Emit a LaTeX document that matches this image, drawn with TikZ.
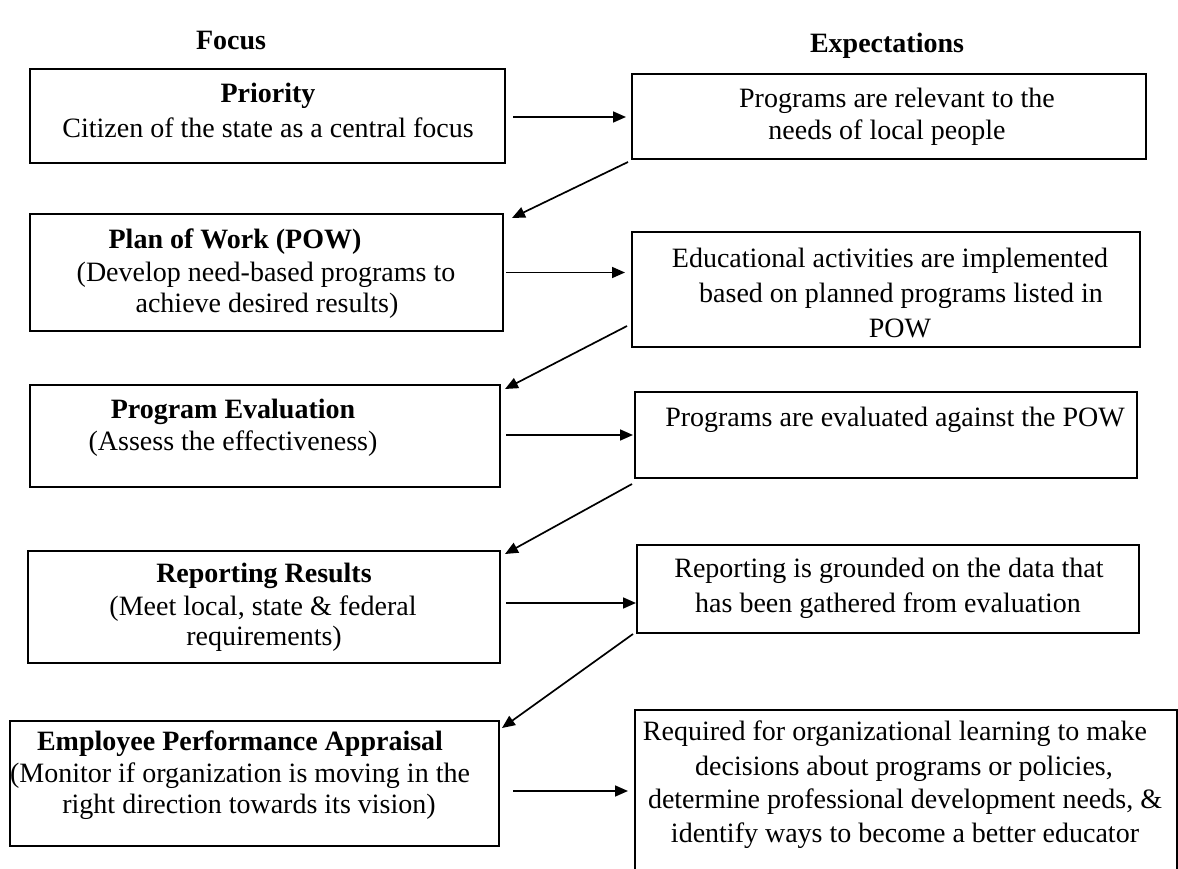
\documentclass[tikz,border=0pt]{standalone}
\usepackage{fontspec}
\setmainfont{Liberation Serif}
\usetikzlibrary{arrows.meta,calc}
\tikzset{
  box/.style={draw, line width=2.3pt, inner sep=0pt, outer sep=0pt},
  txt/.style={anchor=base, inner sep=0pt, outer sep=0pt, font=\fontsize{28}{33}\selectfont},
  hd/.style={anchor=base, inner sep=0pt, outer sep=0pt, font=\fontsize{28}{33}\selectfont\bfseries},
  arr/.style={line width=1.7pt, -{Triangle[length=13pt,width=11pt]}},
}
\begin{document}
\begin{tikzpicture}[x=1pt,y=-1pt]
\useasboundingbox (0,0) rectangle (1178,869);
\clip (0,0) rectangle (1178,869);
\fill[white] (0,0) rectangle (1178,869);

% headings
\node[hd] (hfocus) at (231,50) {Focus};
\node[hd] (hexp) at (887,53) {Expectations};

% left boxes
\node[box, minimum width=475pt, minimum height=94pt] (l1) at (267.5,116) {};
\node[box, minimum width=473pt, minimum height=117pt] (l2) at (266.5,272.5) {};
\node[box, minimum width=470pt, minimum height=102pt] (l3) at (265,436) {};
\node[box, minimum width=472pt, minimum height=112pt] (l4) at (264,607) {};
\node[box, minimum width=489pt, minimum height=125pt] (l5) at (254.5,783.5) {};

% right boxes
\node[box, minimum width=514pt, minimum height=85pt] (r1) at (889,116.5) {};
\node[box, minimum width=508pt, minimum height=115pt] (r2) at (886,289.5) {};
\node[box, minimum width=502pt, minimum height=86pt] (r3) at (886,435) {};
\node[box, minimum width=502pt, minimum height=88pt] (r4) at (888,589) {};
\node[box, minimum width=542pt, minimum height=180pt] (r5) at (906,800) {};

% left texts
\node[hd] (l1a) at (268,103) {Priority};
\node[txt] (l1b) at (268,138) {Citizen of the state as a central focus};
\node[hd] (l2a) at (235,248) {Plan of Work (POW)};
\node[txt] (l2b) at (266,281) {(Develop need-based programs to};
\node[txt] (l2c) at (267,312) {achieve desired results)};
\node[hd] (l3a) at (233,418) {Program Evaluation};
\node[txt] (l3b) at (233,450) {(Assess the effectiveness)};
\node[hd] (l4a) at (264,582) {Reporting Results};
\node[txt] (l4b) at (263,615) {(Meet local, state \& federal};
\node[txt] (l4c) at (264,645) {requirements)};
\node[hd] (l5a) at (240,750) {Employee Performance Appraisal};
\node[txt] (l5b) at (240,782) {(Monitor if organization is moving in the};
\node[txt] (l5c) at (249,813) {right direction towards its vision)};

% right texts
\node[txt] (r1a) at (897,108) {Programs are relevant to the};
\node[txt] (r1b) at (887,140) {needs of local people};
\node[txt] (r2a) at (890,267) {Educational activities are implemented};
\node[txt] (r2b) at (901,302) {based on planned programs listed in};
\node[txt] (r2c) at (900,337) {POW};
\node[txt] (r3a) at (895,426) {Programs are evaluated against the POW};
\node[txt] (r4a) at (889,577) {Reporting is grounded on the data that};
\node[txt] (r4b) at (888,612) {has been gathered from evaluation};
\node[txt] (r5a) at (895,740) {Required for organizational learning to make};
\node[txt] (r5b) at (904,775) {decisions about programs or policies,};
\node[txt] (r5c) at (905,808) {determine professional development needs, \&};
\node[txt] (r5d) at (905,842) {identify ways to become a better educator};

% horizontal arrows
\draw[arr] ($(l1.east)+(8,1)$) -- ($(l1.east -| r1.west)+(-6,1)$);
\draw[arr] ($(l2.east)+(3,0)$) -- ($(l2.east -| r2.west)+(-7,0)$);
\draw[arr] ($(l3.east)+(6,-1)$) -- ($(l3.east -| r3.west)+(-2,-1)$);
\draw[arr] ($(l4.east)+(6,-4)$) -- ($(l4.east -| r4.west)+(-1,-4)$);
\draw[arr] ($(l5.east)+(14,7.5)$) -- ($(l5.east -| r5.west)+(-7,7.5)$);

% diagonal arrows
\draw[arr] ($(r1.south west)+(-4,3)$) -- ($(l2.north east)+(9,4)$);
\draw[arr] ($(r2.south west)+(-5,-21)$) -- ($(l3.north east)+(5,4)$);
\draw[arr] ($(r3.south west)+(-3,6)$) -- ($(l4.north east)+(5,3)$);
\draw[arr] ($(r4.south west)+(-4,1)$) -- ($(l5.north east)+(3,7)$);
\end{tikzpicture}
\end{document}
